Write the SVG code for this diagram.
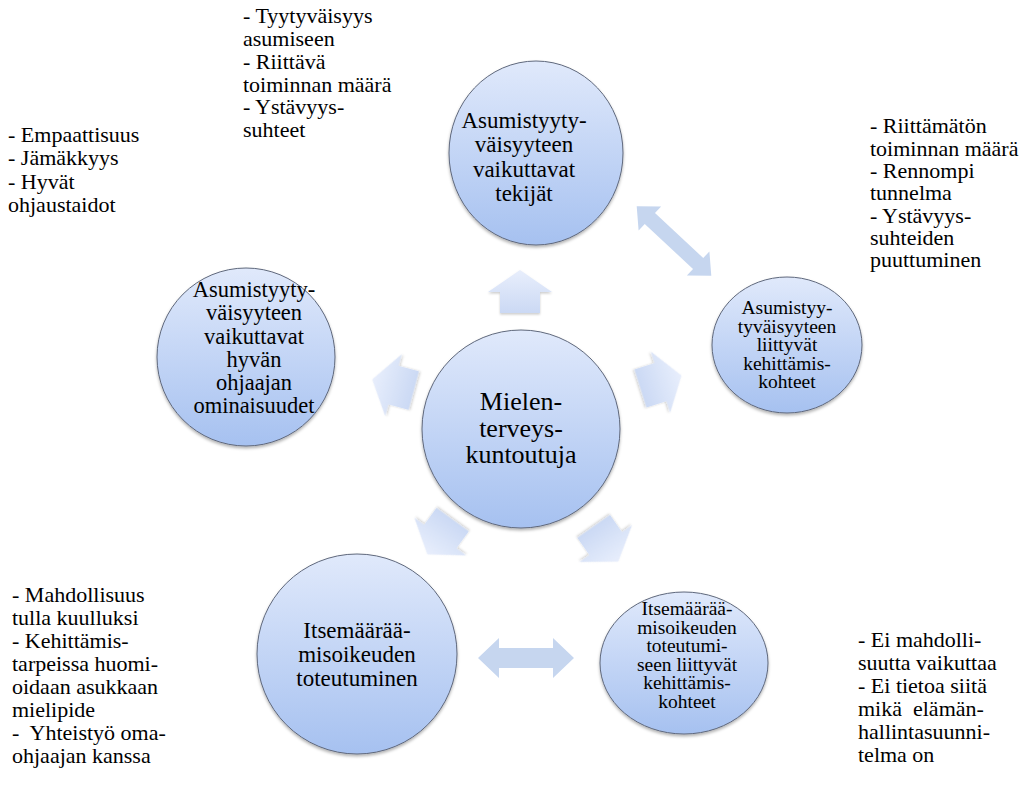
<svg xmlns="http://www.w3.org/2000/svg" width="1025" height="789" viewBox="0 0 1025 789">
<defs>
<linearGradient id="gCircle" x1="0" y1="0" x2="0" y2="1">
<stop offset="0" stop-color="#e0e9fb"/>
<stop offset="1" stop-color="#a6c1f0"/>
</linearGradient>
<linearGradient id="gArrow" x1="0" y1="0" x2="0" y2="1">
<stop offset="0" stop-color="#e8eefc"/>
<stop offset="1" stop-color="#cbd9f4"/>
</linearGradient>
<filter id="sh" x="-20%" y="-20%" width="140%" height="140%">
<feDropShadow dx="0" dy="2" stdDeviation="1.5" flood-color="#000" flood-opacity="0.3"/>
</filter>
<filter id="sh2" x="-30%" y="-30%" width="160%" height="160%">
<feDropShadow dx="0" dy="1.5" stdDeviation="1.2" flood-color="#000" flood-opacity="0.2"/>
</filter>
<path id="upArrow" d="M0,-21.5 L32,0.5 L20,0.5 L20,21.5 L-20,21.5 L-20,0.5 L-32,0.5 Z"/>
</defs>
<style>
.c { fill:url(#gCircle); stroke:#5f687c; stroke-width:1; filter:url(#sh); }
.t { font-family:'Liberation Serif','Tinos','Times New Roman','DejaVu Serif',serif; fill:#000; }
.ct { text-anchor:middle; }
.n { font-size:22px; white-space:pre; }
.a { fill:url(#gArrow); filter:url(#sh2); }
.d { fill:#c6d6ef; }
</style>
<rect width="1025" height="789" fill="#ffffff"/>

<g id="connectors">
<use href="#upArrow" class="a" transform="translate(520,291.5)"/>
<use href="#upArrow" class="a" transform="translate(393,385) rotate(-75)"/>
<use href="#upArrow" class="a" transform="translate(661,382) rotate(72.5)"/>
<use href="#upArrow" class="a" transform="translate(440,537) rotate(216)"/>
<use href="#upArrow" class="a" transform="translate(606,544) rotate(145)"/>
<path class="d" transform="translate(674,241) rotate(43)" d="M-51,0 L-33,-16.5 L-33,-7.5 L33,-7.5 L33,-16.5 L51,0 L33,16.5 L33,7.5 L-33,7.5 L-33,16.5 Z"/>
<path class="d" d="M478,658 L499,638 L499,648 L553,648 L553,638 L574,658 L553,678 L553,668 L499,668 L499,678 Z"/>
</g>

<g id="node-center">
<circle class="c" cx="521" cy="429" r="99"/>
<text class="t ct" font-family="Liberation Serif, serif" font-size="26"><tspan x="521" y="410">Mielen-</tspan><tspan x="521" y="436.5">terveys-</tspan><tspan x="521" y="463">kuntoutuja</tspan></text>
</g>

<g id="node-top">
<ellipse class="c" cx="536" cy="153" rx="87" ry="92"/>
<text class="t ct" font-family="Liberation Serif, serif" font-size="23"><tspan x="524" y="127.5">Asumistyyty-</tspan><tspan x="524" y="152">väisyyteen</tspan><tspan x="524" y="176.5">vaikuttavat</tspan><tspan x="524" y="201">tekijät</tspan></text>
</g>

<g id="node-left">
<circle class="c" cx="246" cy="357" r="89"/>
<text class="t ct" font-family="Liberation Serif, serif" font-size="22.5"><tspan x="254" y="297">Asumistyyty-</tspan><tspan x="254" y="320">väisyyteen</tspan><tspan x="254" y="343.5">vaikuttavat</tspan><tspan x="254" y="366.5">hyvän</tspan><tspan x="254" y="389.5">ohjaajan</tspan><tspan x="254" y="412.5">ominaisuudet</tspan></text>
</g>

<g id="node-right">
<ellipse class="c" cx="787" cy="345" rx="75" ry="68"/>
<text class="t ct" font-family="Liberation Serif, serif" font-size="19.5"><tspan x="787" y="314">Asumistyy-</tspan><tspan x="787" y="332.5">tyväisyyteen</tspan><tspan x="787" y="351">liittyvät</tspan><tspan x="787" y="369.5">kehittämis-</tspan><tspan x="787" y="388">kohteet</tspan></text>
</g>

<g id="node-bottom-left">
<circle class="c" cx="357" cy="654" r="100"/>
<text class="t ct" font-family="Liberation Serif, serif" font-size="23"><tspan x="357" y="638">Itsemäärää-</tspan><tspan x="357" y="662">misoikeuden</tspan><tspan x="357" y="686">toteutuminen</tspan></text>
</g>

<g id="node-bottom-right">
<ellipse class="c" cx="684" cy="663" rx="84" ry="71"/>
<text class="t ct" font-family="Liberation Serif, serif" font-size="19.5"><tspan x="687" y="615">Itsemäärää-</tspan><tspan x="687" y="633.5">misoikeuden</tspan><tspan x="687" y="652">toteutumi-</tspan><tspan x="687" y="670.5">seen liittyvät</tspan><tspan x="687" y="689">kehittämis-</tspan><tspan x="687" y="707.5">kohteet</tspan></text>
</g>

<g id="note-top">
<text class="t n" font-family="Liberation Serif, serif"><tspan x="243" y="23">- Tyytyväisyys</tspan><tspan x="243" y="46">asumiseen</tspan><tspan x="243" y="68.5">- Riittävä</tspan><tspan x="243" y="91.5">toiminnan määrä</tspan><tspan x="243" y="114">- Ystävyys-</tspan><tspan x="243" y="137">suhteet</tspan></text>
</g>

<g id="note-left">
<text class="t n" font-family="Liberation Serif, serif"><tspan x="8" y="141.5">- Empaattisuus</tspan><tspan x="8" y="165">- Jämäkkyys</tspan><tspan x="8" y="188.5">- Hyvät</tspan><tspan x="8" y="212">ohjaustaidot</tspan></text>
</g>

<g id="note-right">
<text class="t n" font-family="Liberation Serif, serif"><tspan x="870" y="133">- Riittämätön</tspan><tspan x="870" y="155.5">toiminnan määrä</tspan><tspan x="870" y="178">- Rennompi</tspan><tspan x="870" y="200">tunnelma</tspan><tspan x="870" y="222.5">- Ystävyys-</tspan><tspan x="870" y="245">suhteiden</tspan><tspan x="870" y="267">puuttuminen</tspan></text>
</g>

<g id="note-bottom-left">
<text class="t n" font-family="Liberation Serif, serif"><tspan x="12" y="601.5">- Mahdollisuus</tspan><tspan x="12" y="624.5">tulla kuulluksi</tspan><tspan x="12" y="647.5">- Kehittämis-</tspan><tspan x="12" y="670.5">tarpeissa huomi-</tspan><tspan x="12" y="693.5">oidaan asukkaan</tspan><tspan x="12" y="716.5">mielipide</tspan><tspan x="12" y="739.5">-  Yhteistyö oma-</tspan><tspan x="12" y="762.5">ohjaajan kanssa</tspan></text>
</g>

<g id="note-bottom-right">
<text class="t n" font-family="Liberation Serif, serif"><tspan x="858" y="646.5">- Ei mahdolli-</tspan><tspan x="858" y="669.5">suutta vaikuttaa</tspan><tspan x="858" y="692.5">- Ei tietoa siitä</tspan><tspan x="858" y="715.5">mikä  elämän-</tspan><tspan x="858" y="738.5">hallintasuunni-</tspan><tspan x="858" y="761.5">telma on</tspan></text>
</g>
</svg>
